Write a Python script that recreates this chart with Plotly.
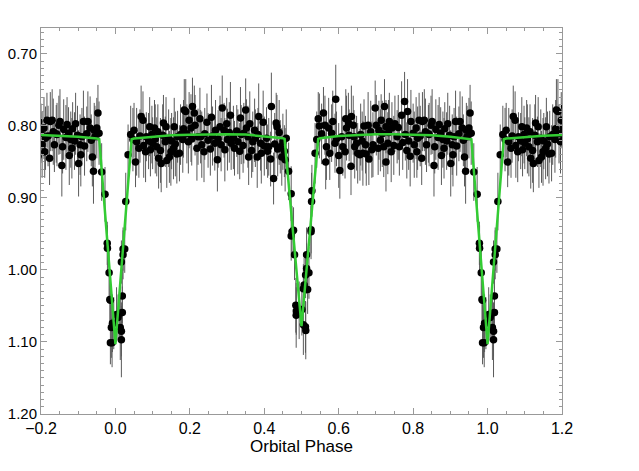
import plotly.graph_objects as go

# primary eclipse (phase ~ 0)
phase_pri = [-0.037, -0.028, -0.022, -0.0215, -0.017, -0.015, -0.0135, -0.0135, -0.011, -0.009,
             -0.008, -0.0045, 0.003, 0.007, 0.0115, 0.013, 0.016, 0.016, 0.016, 0.0185,
             0.0185, 0.0205, 0.0205, 0.025, 0.0277, 0.034]
flux_pri = [0.864, 0.895, 0.963, 0.970, 1.004, 1.041, 1.042, 1.101, 1.080, 1.101,
            1.074, 1.074, 1.062, 1.066, 1.060, 1.080, 1.085, 1.097, 0.989, 1.036,
            1.059, 0.979, 0.971, 0.971, 0.905, 0.840]
err_pri = [0.040, 0.038, 0.030, 0.032, 0.035, 0.033, 0.038, 0.030, 0.042, 0.034,
           0.040, 0.036, 0.038, 0.032, 0.040, 0.045, 0.035, 0.052, 0.030, 0.038,
           0.036, 0.034, 0.030, 0.033, 0.040, 0.042]

# out of eclipse, first half
phase_a = [0.041, 0.047, 0.050, 0.054, 0.057, 0.063, 0.066,
           0.069, 0.074, 0.076, 0.081, 0.083, 0.089, 0.092,
           0.094, 0.098, 0.100, 0.105, 0.107, 0.111, 0.114,
           0.116, 0.121, 0.123, 0.127, 0.129, 0.134, 0.136,
           0.138, 0.143, 0.145, 0.149, 0.151, 0.156, 0.158,
           0.161, 0.165, 0.167, 0.172, 0.175, 0.181, 0.183,
           0.185, 0.189, 0.192, 0.196, 0.198, 0.203, 0.205,
           0.207, 0.212, 0.214, 0.219, 0.222, 0.227, 0.229,
           0.232, 0.238, 0.240, 0.246, 0.249, 0.255, 0.258,
           0.261, 0.267, 0.269, 0.274, 0.276, 0.281, 0.284,
           0.287, 0.292, 0.294, 0.299, 0.301, 0.306, 0.309,
           0.311, 0.317, 0.320, 0.326, 0.329, 0.334, 0.336,
           0.338, 0.343, 0.345, 0.350, 0.352, 0.356, 0.358,
           0.361, 0.366, 0.369, 0.374, 0.376, 0.381, 0.383,
           0.385, 0.390, 0.392, 0.397, 0.400, 0.406, 0.409,
           0.412, 0.417, 0.419, 0.425, 0.428, 0.432, 0.434,
           0.436, 0.440, 0.443, 0.447, 0.450, 0.454, 0.456,
           0.459]
flux_a = [0.812, 0.819, 0.806, 0.850, 0.822, 0.831, 0.814,
          0.787, 0.792, 0.827, 0.836, 0.815, 0.821, 0.801,
          0.833, 0.812, 0.824, 0.803, 0.818, 0.829, 0.808,
          0.845, 0.834, 0.852, 0.813, 0.796, 0.822, 0.801,
          0.848, 0.817, 0.843, 0.836, 0.821, 0.831, 0.801,
          0.825, 0.839, 0.815, 0.838, 0.812, 0.819, 0.804,
          0.778, 0.780, 0.811, 0.822, 0.792, 0.803, 0.818,
          0.773, 0.782, 0.799, 0.831, 0.815, 0.790, 0.815,
          0.826, 0.836, 0.811, 0.795, 0.820, 0.832, 0.788,
          0.814, 0.824, 0.806, 0.847, 0.818, 0.801, 0.826,
          0.775, 0.806, 0.833, 0.797, 0.819, 0.809, 0.785,
          0.824, 0.816, 0.831, 0.807, 0.822, 0.835, 0.789,
          0.812, 0.827, 0.810, 0.778, 0.803, 0.815, 0.843,
          0.797, 0.834, 0.822, 0.806, 0.817, 0.843, 0.812,
          0.787, 0.824, 0.838, 0.795, 0.828, 0.817, 0.835,
          0.829, 0.846, 0.773, 0.873, 0.825, 0.796, 0.801,
          0.832, 0.809, 0.829, 0.843, 0.822, 0.835, 0.847,
          0.817]
err_a = [0.040, 0.044, 0.038, 0.035, 0.047, 0.041, 0.037,
         0.043, 0.040, 0.045, 0.042, 0.034, 0.039, 0.041,
         0.037, 0.040, 0.036, 0.039, 0.048, 0.041, 0.038,
         0.042, 0.045, 0.040, 0.043, 0.039, 0.035, 0.041,
         0.038, 0.040, 0.036, 0.047, 0.039, 0.043, 0.040,
         0.045, 0.041, 0.036, 0.039, 0.042, 0.046, 0.040,
         0.043, 0.045, 0.041, 0.044, 0.039, 0.047, 0.037,
         0.040, 0.038, 0.042, 0.045, 0.039, 0.043, 0.037,
         0.046, 0.042, 0.036, 0.040, 0.038, 0.037, 0.045,
         0.041, 0.038, 0.042, 0.044, 0.040, 0.043, 0.037,
         0.045, 0.038, 0.044, 0.036, 0.043, 0.042, 0.046,
         0.037, 0.044, 0.038, 0.036, 0.045, 0.039, 0.043,
         0.041, 0.038, 0.042, 0.044, 0.040, 0.043, 0.039,
         0.045, 0.038, 0.042, 0.044, 0.040, 0.043, 0.037,
         0.046, 0.038, 0.042, 0.044, 0.041, 0.043, 0.037,
         0.040, 0.038, 0.047, 0.036, 0.043, 0.042, 0.044,
         0.038, 0.045, 0.037, 0.040, 0.039, 0.036, 0.044,
         0.040]

# secondary eclipse (phase ~ 0.5)
phase_sec = [0.4654, 0.4723, 0.4723, 0.4745, 0.4786, 0.4813, 0.4848, 0.4857, 0.486, 0.4937,
             0.501, 0.505, 0.505, 0.507, 0.5106, 0.511, 0.5115, 0.5137, 0.5137, 0.5165,
             0.520, 0.5257, 0.5257, 0.527, 0.528, 0.5365]
flux_sec = [0.863, 0.894, 0.953, 0.947, 0.945, 0.979, 1.049, 1.063, 1.057, 1.056,
            1.055, 1.076, 1.026, 1.021, 1.079, 1.007, 1.084, 0.998, 0.979, 1.027,
            1.004, 0.947, 0.944, 0.905, 0.890, 0.838]
err_sec = [0.040, 0.038, 0.034, 0.036, 0.032, 0.035, 0.038, 0.045, 0.033, 0.040,
           0.036, 0.042, 0.034, 0.038, 0.036, 0.032, 0.040, 0.035, 0.038, 0.034,
           0.036, 0.038, 0.033, 0.040, 0.036, 0.042]

# out of eclipse, second half
phase_b = [0.541, 0.545, 0.548, 0.554, 0.559, 0.563, 0.565,
           0.567, 0.573, 0.576, 0.581, 0.584, 0.590, 0.592,
           0.594, 0.600, 0.603, 0.608, 0.611, 0.617, 0.619,
           0.621, 0.626, 0.628, 0.633, 0.634, 0.639, 0.641,
           0.643, 0.648, 0.651, 0.657, 0.659, 0.663, 0.665,
           0.668, 0.672, 0.674, 0.679, 0.681, 0.686, 0.689,
           0.692, 0.698, 0.701, 0.706, 0.708, 0.712, 0.714,
           0.717, 0.721, 0.723, 0.727, 0.727, 0.732, 0.734,
           0.736, 0.741, 0.743, 0.748, 0.751, 0.757, 0.760,
           0.763, 0.769, 0.772, 0.777, 0.779, 0.783, 0.785,
           0.788, 0.792, 0.794, 0.800, 0.803, 0.808, 0.810,
           0.812, 0.816, 0.819, 0.823, 0.825, 0.830, 0.833,
           0.836, 0.841, 0.843, 0.848, 0.851, 0.856, 0.858,
           0.861, 0.867, 0.870, 0.874, 0.876, 0.880, 0.883,
           0.885, 0.890, 0.893, 0.898, 0.901, 0.905, 0.907,
           0.910, 0.914, 0.917, 0.923, 0.926, 0.932, 0.935,
           0.938, 0.941, 0.943, 0.945, 0.950, 0.953, 0.956]
flux_b = [0.819, 0.790, 0.800, 0.811, 0.782, 0.799, 0.850,
          0.829, 0.803, 0.838, 0.810, 0.794, 0.824, 0.763,
          0.818, 0.841, 0.862, 0.815, 0.829, 0.836, 0.790,
          0.803, 0.796, 0.813, 0.856, 0.787, 0.799, 0.815,
          0.829, 0.824, 0.838, 0.840, 0.812, 0.821, 0.838,
          0.800, 0.826, 0.839, 0.799, 0.846, 0.808, 0.833,
          0.826, 0.775, 0.799, 0.831, 0.806, 0.820, 0.792,
          0.811, 0.829, 0.773, 0.801, 0.850, 0.824, 0.809,
          0.794, 0.836, 0.803, 0.827, 0.797, 0.815, 0.802,
          0.829, 0.785, 0.823, 0.766, 0.812, 0.834, 0.780,
          0.821, 0.842, 0.794, 0.810, 0.826, 0.803, 0.836,
          0.817, 0.792, 0.814, 0.845, 0.794, 0.792, 0.808,
          0.826, 0.811, 0.812, 0.799, 0.794, 0.855, 0.829,
          0.805, 0.816, 0.798, 0.810, 0.841, 0.819, 0.831,
          0.804, 0.821, 0.797, 0.813, 0.852, 0.826, 0.840,
          0.815, 0.794, 0.828, 0.811, 0.794, 0.803, 0.820,
          0.843, 0.863, 0.806, 0.815, 0.803, 0.782, 0.810]
err_b = [0.039, 0.037, 0.045, 0.042, 0.036, 0.041, 0.038,
         0.046, 0.042, 0.037, 0.040, 0.043, 0.041, 0.048,
         0.038, 0.045, 0.039, 0.043, 0.040, 0.037, 0.041,
         0.045, 0.042, 0.036, 0.040, 0.043, 0.041, 0.037,
         0.044, 0.038, 0.042, 0.036, 0.043, 0.041, 0.045,
         0.037, 0.040, 0.044, 0.046, 0.036, 0.043, 0.039,
         0.045, 0.038, 0.042, 0.037, 0.041, 0.043, 0.036,
         0.046, 0.042, 0.038, 0.037, 0.041, 0.043, 0.045,
         0.040, 0.042, 0.036, 0.041, 0.039, 0.037, 0.045,
         0.040, 0.047, 0.038, 0.041, 0.036, 0.039, 0.045,
         0.040, 0.042, 0.044, 0.041, 0.046, 0.043, 0.036,
         0.044, 0.038, 0.042, 0.037, 0.041, 0.043, 0.046,
         0.038, 0.040, 0.044, 0.041, 0.045, 0.043, 0.037,
         0.042, 0.045, 0.038, 0.036, 0.041, 0.039, 0.042,
         0.037, 0.040, 0.043, 0.041, 0.046, 0.042, 0.044,
         0.040, 0.043, 0.041, 0.038, 0.042, 0.044, 0.036,
         0.041, 0.045, 0.038, 0.043, 0.042, 0.039, 0.044]

# model light curve
model_phase = [-0.2, -0.15, -0.1, -0.05, -0.0435, 0.0, 0.0435, 0.05, 0.1, 0.15,
               0.2, 0.25, 0.3, 0.35, 0.4, 0.45, 0.4546, 0.5, 0.545, 0.55,
               0.6, 0.65, 0.7, 0.75, 0.8, 0.85, 0.9, 0.95, 0.9565, 1.0,
               1.0435, 1.05, 1.1, 1.15, 1.2]
model_flux = [0.8125, 0.8135, 0.815, 0.8175, 0.8185, 1.103, 0.8185, 0.8175, 0.815, 0.813,
              0.8122, 0.8115, 0.8115, 0.812, 0.814, 0.817, 0.818, 1.078, 0.818, 0.817,
              0.814, 0.8125, 0.8115, 0.8115, 0.8122, 0.813, 0.815, 0.8175, 0.8185, 1.103,
              0.8185, 0.8175, 0.815, 0.8135, 0.8125]

phase = phase_pri + phase_a + phase_sec + phase_b
flux = flux_pri + flux_a + flux_sec + flux_b
err = err_pri + err_a + err_sec + err_b

# fold: show the cycle again on both sides, out to -0.2 and 1.2
xs, ys, es = [], [], []
for p, f, e in zip(phase, flux, err):
    for shift in (-1, 0, 1):
        q = p + shift
        if -0.21 <= q <= 1.21:
            xs.append(q)
            ys.append(f)
            es.append(e)

fig = go.Figure()

fig.add_trace(go.Scatter(
    x=xs, y=ys, mode="markers",
    marker=dict(color="black", size=7.5),
    error_y=dict(type="data", array=es, color="#5a5a5a", thickness=1, width=0),
    showlegend=False
))

fig.add_trace(go.Scatter(
    x=model_phase, y=model_flux, mode="lines",
    line=dict(color="#33cc33", width=2.5),
    showlegend=False
))

axis_style = dict(
    showline=True, linecolor="#999999", linewidth=1, mirror="allticks",
    ticks="inside", ticklen=6, tickcolor="#999999", showgrid=False, zeroline=False,
    automargin=False,
)

fig.update_xaxes(
    range=[-0.2, 1.2], dtick=0.2, tick0=0, tickformat=".1f",
    minor=dict(dtick=0.05, ticks="inside", ticklen=3, tickcolor="#999999"),
    tickfont=dict(size=16, color="black"), ticklabelstandoff=0,
    title=dict(text="Orbital Phase", font=dict(size=17, color="black"), standoff=2),
    **axis_style
)
fig.update_yaxes(
    range=[1.2, 0.664], dtick=0.1, tick0=0, tickformat=".2f",
    minor=dict(dtick=0.01, ticks="inside", ticklen=3, tickcolor="#999999"),
    tickfont=dict(size=15, color="black"), ticklabelstandoff=0,
    **axis_style
)

# page body adds an 8 px offset, so margins are taken smaller on the left/top
fig.update_layout(
    width=631, height=463,
    margin=dict(l=33, r=77, t=20, b=57),
    paper_bgcolor="white", plot_bgcolor="white",
    font=dict(family="Liberation Sans, Arial, sans-serif", color="black"),
)

fig.write_html("out.html")
